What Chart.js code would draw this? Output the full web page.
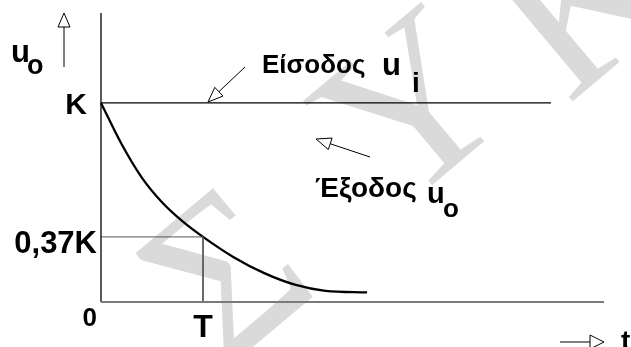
<!DOCTYPE html>
<html>
<head>
<meta charset="utf-8">
<script src="https://cdn.jsdelivr.net/npm/chart.js@4.4.1/dist/chart.umd.min.js"></script>
<style>
  html, body { margin: 0; padding: 0; background: #fff; }
  canvas { display: block; }
</style>
</head>
<body>
<canvas id="responseChart" width="631" height="347"></canvas>
<script>
// output curve u_o(t), t in units of T, u in units of K
const timeValues   = [0, 0.2, 0.4, 0.6, 0.8, 1.0, 1.3, 1.6, 1.9, 2.2, 2.608];
const outputValues = [1, 0.795, 0.625, 0.50, 0.405, 0.327, 0.225, 0.145, 0.087, 0.056, 0.048];

// input step u_i
const inputTimes  = [0, 4.41];
const inputValues = [1, 1];

// time constant marker
const tauTime = 1;
const tauLevel = 0.327;

// tick labels
const yTickValues = [1, tauLevel];
const yTickLabels = ['K', '0,37K'];
const xTickValues = [tauTime];
const xTickLabels = ['T'];

const xMax = 4.93;
const yMax = 1.452;

const watermarkLetters = ['Σ', 'Υ', 'Κ'];

const FONT = '"Liberation Sans", Arial, sans-serif';

function arrow(ctx, x1, y1, x2, y2, headLen, headHalf) {
  const ang = Math.atan2(y2 - y1, x2 - x1);
  const bx = x2 - headLen * Math.cos(ang);
  const by = y2 - headLen * Math.sin(ang);
  ctx.beginPath();
  ctx.moveTo(x1, y1);
  ctx.lineTo(bx, by);
  ctx.stroke();
  const nx = -Math.sin(ang) * headHalf, ny = Math.cos(ang) * headHalf;
  ctx.beginPath();
  ctx.moveTo(x2, y2);
  ctx.lineTo(bx + nx, by + ny);
  ctx.lineTo(bx - nx, by - ny);
  ctx.closePath();
  ctx.fillStyle = '#fff';
  ctx.fill();
  ctx.stroke();
}

function label(ctx, text, x, y, size, align) {
  ctx.font = 'bold ' + size + 'px ' + FONT;
  ctx.textAlign = align || 'left';
  ctx.textBaseline = 'alphabetic';
  ctx.fillStyle = '#000';
  ctx.fillText(text, x, y);
}

const diagramPlugin = {
  id: 'diagram',
  beforeDraw(chart) {
    const ctx = chart.ctx;
    ctx.save();
    ctx.fillStyle = '#fff';
    ctx.fillRect(0, 0, chart.width, chart.height);
    // faint watermark
    ctx.fillStyle = '#dadada';
    ctx.font = '225px "Liberation Serif", "DejaVu Serif", serif';
    ctx.textAlign = 'center';
    ctx.textBaseline = 'middle';
    const centers = [[235, 285], [420, 118], [592, 8]];
    watermarkLetters.forEach((ch, i) => {
      ctx.save();
      ctx.translate(centers[i][0], centers[i][1]);
      ctx.rotate(-40 * Math.PI / 180);
      ctx.fillText(ch, 0, 0);
      ctx.restore();
    });
    ctx.restore();
  },
  afterDatasetsDraw(chart) {
    const ctx = chart.ctx;
    const xs = chart.scales.x, ys = chart.scales.y;
    const x0 = xs.getPixelForValue(0), y0 = ys.getPixelForValue(0);
    ctx.save();
    ctx.lineCap = 'butt';

    // axes
    ctx.strokeStyle = '#000';
    ctx.lineWidth = 1.3;
    ctx.beginPath();
    ctx.moveTo(x0, ys.getPixelForValue(yMax));
    ctx.lineTo(x0, y0);
    ctx.stroke();
    ctx.strokeStyle = '#7a7a7a';
    ctx.lineWidth = 2;
    ctx.beginPath();
    ctx.moveTo(x0, y0);
    ctx.lineTo(xs.getPixelForValue(xMax), y0);
    ctx.stroke();

    // tick labels
    label(ctx, yTickLabels[0], x0 - 14, ys.getPixelForValue(yTickValues[0]) + 11, 30, 'right');
    label(ctx, yTickLabels[1], x0 - 4, ys.getPixelForValue(yTickValues[1]) + 16, 31, 'right');
    xTickValues.forEach((v, i) => {
      label(ctx, xTickLabels[i], xs.getPixelForValue(v), y0 + 35, 32, 'center');
    });
    label(ctx, '0', x0 - 4, y0 + 24, 26, 'right');

    // axis names
    label(ctx, 'u', 11, 62, 31);
    label(ctx, 'o', 27, 74, 27);
    label(ctx, 't', 621, 350, 28);

    // series names
    label(ctx, 'Είσοδος', 262, 73, 26);
    label(ctx, 'u', 382, 75, 31);
    label(ctx, 'i', 412, 92, 28);
    label(ctx, 'Έξοδος', 315, 197, 28);
    label(ctx, 'u', 427, 203, 29);
    label(ctx, 'o', 443, 217, 26);

    // arrows
    ctx.strokeStyle = '#000';
    ctx.lineWidth = 1;
    arrow(ctx, 64, 67, 64, 13, 14, 6);
    arrow(ctx, 560, 342, 604, 342, 14, 7);
    arrow(ctx, 245, 67, 208, 102, 15, 6);
    arrow(ctx, 370, 157, 316, 139, 15, 6);
    ctx.restore();
  }
};

const curvePoints = timeValues.map((t, i) => ({ x: t, y: outputValues[i] }));
const inputPoints = inputTimes.map((t, i) => ({ x: t, y: inputValues[i] }));
const tauPoints = [{ x: 0, y: tauLevel }, { x: tauTime, y: tauLevel }, { x: tauTime, y: 0 }];

new Chart(document.getElementById('responseChart').getContext('2d'), {
  type: 'scatter',
  data: {
    datasets: [
      {
        label: 'tau',
        data: tauPoints,
        showLine: true,
        borderColor: '#555',
        borderWidth: 1,
        pointRadius: 0,
        fill: false,
        clip: false
      },
      {
        label: 'Είσοδος u_i',
        data: inputPoints,
        showLine: true,
        borderColor: '#000',
        borderWidth: 1.3,
        pointRadius: 0,
        fill: false,
        clip: false
      },
      {
        label: 'Έξοδος u_o',
        data: curvePoints,
        showLine: true,
        cubicInterpolationMode: 'monotone',
        borderColor: '#000',
        borderWidth: 2.3,
        pointRadius: 0,
        fill: false,
        clip: false
      }
    ]
  },
  options: {
    responsive: false,
    animation: false,
    layout: { padding: { left: 101, right: 27, top: 13, bottom: 45 } },
    plugins: { legend: { display: false }, tooltip: { enabled: false } },
    scales: {
      x: { type: 'linear', min: 0, max: xMax, display: false },
      y: { type: 'linear', min: 0, max: yMax, display: false }
    }
  },
  plugins: [diagramPlugin]
});
</script>
</body>
</html>
